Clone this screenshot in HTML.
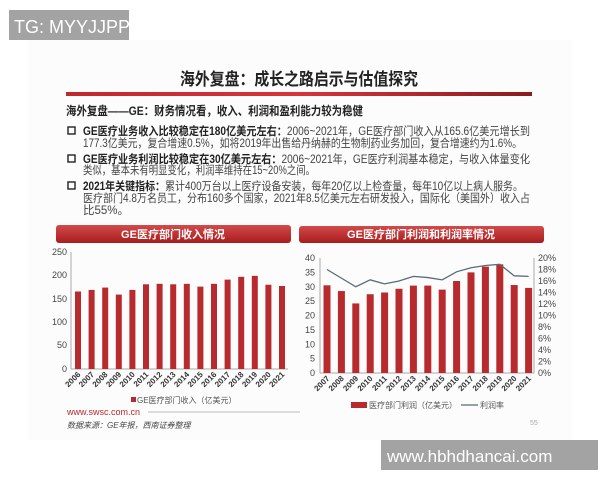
<!DOCTYPE html><html><head><meta charset="utf-8"><style>
body{margin:0;background:#fff;width:600px;height:480px;overflow:hidden}
text{font-family:"Liberation Sans","Noto Sans CJK SC",sans-serif}
</style></head><body>
<svg width="600" height="480" xmlns="http://www.w3.org/2000/svg">
<defs><linearGradient id="tb" x1="0" y1="0" x2="0" y2="1"><stop offset="0" stop-color="#d24a4a"/><stop offset="1" stop-color="#a81c1c"/></linearGradient>
<linearGradient id="rl" x1="0" x2="1"><stop offset="0" stop-color="#c0282c"/><stop offset=".5" stop-color="#d8343a"/><stop offset="1" stop-color="#8a1c20"/></linearGradient></defs>
<rect x="28" y="40" width="544" height="400" fill="#fcfcfc"/>
<rect x="9" y="10" width="120" height="30" fill="#a3a3a3"/>
<text x="14" y="33" font-size="18" fill="#fff">TG: MYYJJPP</text>
<text x="180" y="85" font-size="17" font-weight="bold" fill="#222" textLength="238" lengthAdjust="spacingAndGlyphs">海外复盘：成长之路启示与估值探究</text>
<rect x="66" y="92" width="466" height="4" fill="url(#rl)"/>
<text x="66" y="115" font-size="12" font-weight="bold" fill="#222" textLength="297" lengthAdjust="spacingAndGlyphs">海外复盘——GE：财务情况看，收入、利润和盈利能力较为稳健</text>
<g font-size="11.5" fill="#444">
<rect x="68" y="127" width="7" height="7" fill="none" stroke="#222" stroke-width="1.4"/>
<text x="83" y="135" textLength="447" lengthAdjust="spacingAndGlyphs"><tspan font-weight="bold" fill="#222">GE医疗业务收入比较稳定在180亿美元左右：</tspan>2006~2021年，GE医疗部门收入从165.6亿美元增长到</text>
<text x="83" y="147" textLength="439" lengthAdjust="spacingAndGlyphs">177.3亿美元，复合增速0.5%，如将2019年出售给丹纳赫的生物制药业务加回，复合增速约为1.6%。</text>
<rect x="68" y="155" width="7" height="7" fill="none" stroke="#222" stroke-width="1.4"/>
<text x="83" y="163" textLength="447" lengthAdjust="spacingAndGlyphs"><tspan font-weight="bold" fill="#222">GE医疗业务利润比较稳定在30亿美元左右：</tspan>2006~2021年，GE医疗利润基本稳定，与收入体量变化</text>
<text x="83" y="174" textLength="232" lengthAdjust="spacingAndGlyphs">类似，基本未有明显变化，利润率维持在15~20%之间。</text>
<rect x="68" y="182" width="7" height="7" fill="none" stroke="#222" stroke-width="1.4"/>
<text x="83" y="190" textLength="440" lengthAdjust="spacingAndGlyphs"><tspan font-weight="bold" fill="#222">2021年关键指标：</tspan>累计400万台以上医疗设备安装，每年20亿以上检查量，每年10亿以上病人服务。</text>
<text x="83" y="202" textLength="447" lengthAdjust="spacingAndGlyphs">医疗部门4.8万名员工，分布160多个国家，2021年8.5亿美元左右研发投入，国际化（美国外）收入占</text>
<text x="83" y="214">比55%。</text>
</g>
<!-- left chart -->
<rect x="56" y="225" width="235" height="18" rx="3" fill="url(#tb)"/>
<text x="173" y="238" font-size="11" font-weight="bold" fill="#fff" text-anchor="middle">GE医疗部门收入情况</text>
<g font-size="9" fill="#444" text-anchor="end">
<text x="67" y="255">250</text><text x="67" y="278">200</text><text x="67" y="302">150</text><text x="67" y="325">100</text><text x="67" y="348">50</text><text x="67" y="372">0</text></g>
<line x1="71" y1="252" x2="71" y2="369" stroke="#aaa"/><line x1="71" y1="369" x2="288" y2="369" stroke="#aaa"/>
<g fill="#b72a2e" id="lb"></g>
<g font-size="8" font-weight="bold" fill="#333" id="lx"></g>
<rect x="131" y="397" width="5" height="5" fill="#b72a2e"/>
<text x="137" y="403" font-size="8" fill="#555">GE医疗部门收入（亿美元）</text>
<text x="67" y="415" font-size="9" fill="#b72a2e">www.swsc.com.cn</text>
<line x1="148" y1="412" x2="300" y2="412" stroke="#bbb"/>
<text x="67" y="428" font-size="8" font-style="italic" fill="#444">数据来源：GE年报，西南证券整理</text>
<!-- right chart -->
<rect x="299" y="226" width="245" height="17" rx="3" fill="url(#tb)"/>
<text x="421" y="238" font-size="11" font-weight="bold" fill="#fff" text-anchor="middle">GE医疗部门利润和利润率情况</text>
<g font-size="9" fill="#444" text-anchor="end" id="ry"></g>
<g font-size="9" fill="#444" id="ryr"></g>
<line x1="320" y1="258" x2="320" y2="373" stroke="#aaa"/><line x1="534" y1="258" x2="534" y2="373" stroke="#aaa"/><line x1="320" y1="373" x2="534" y2="373" stroke="#aaa"/>
<g fill="#b72a2e" id="rb"></g>
<polyline id="rl2" fill="none" stroke="#5a6a78" stroke-width="1.3"/>
<g font-size="8" font-weight="bold" fill="#333" id="rx"></g>
<rect x="351" y="402" width="16" height="6" fill="#b72a2e"/>
<text x="369" y="408" font-size="8" fill="#555">医疗部门利润（亿美元）</text>
<line x1="461" y1="405" x2="478" y2="405" stroke="#5a6a78" stroke-width="1.3"/>
<text x="480" y="408" font-size="8" fill="#555">利润率</text>
<text x="530" y="425" font-size="7" fill="#aaa">55</text>
<rect x="381" y="440" width="217" height="30" fill="#a3a3a3"/>
<text x="387" y="462" font-size="17" fill="#fff">www.hbhdhancai.com</text>
</svg>
<script>
const NS="http://www.w3.org/2000/svg";
function el(p,t,a,tx){const e=document.createElementNS(NS,t);for(const k in a)e.setAttribute(k,a[k]);if(tx!==undefined)e.textContent=tx;document.getElementById(p).appendChild(e);}
const L=[165.6,169,174,159,169,181,182,181,182,176,182,191,197,199,180,177.3];
L.forEach((v,i)=>{const x=78+i*13.6,h=v*0.468;el('lb','rect',{x:x-3,y:369-h,width:6,height:h});
el('lx','text',{x:x+3,y:375,transform:`rotate(-45 ${x+3} 375)`,'text-anchor':'end'},2006+i);});
for(let i=0;i<=8;i++){const y=373-i*115/8;el('ry','text',{x:315,y:y+3},String(i*5));}
for(let i=0;i<=10;i++){const y=373-i*11.5;el('ryr','text',{x:538,y:y+3},(i*2)+'%');}
const B=[30.5,28.5,24.2,27.4,28,29.3,30.4,30.4,29,32,35,37,37.8,30.6,29.6];
const P=[18,16.5,15,16.2,15.5,16,16.8,16.6,16.2,17.6,18.3,18.7,18.9,16.9,16.8];
let pts=[];
B.forEach((v,i)=>{const x=327+i*14.4,h=v*115/40;el('rb','rect',{x:x-3.5,y:373-h,width:7,height:h});
pts.push(x+','+(373-P[i]*5.75));
el('rx','text',{x:x+3,y:379,transform:`rotate(-45 ${x+3} 379)`,'text-anchor':'end'},2007+i);});
document.getElementById('rl2').setAttribute('points',pts.join(' '));
</script>
</body></html>
